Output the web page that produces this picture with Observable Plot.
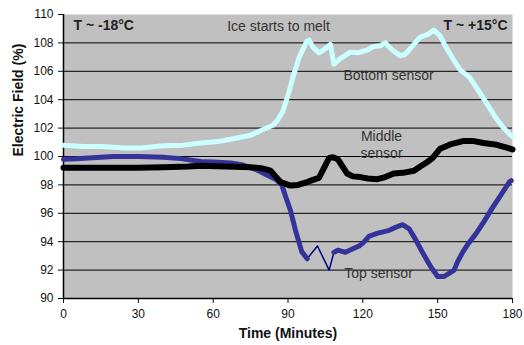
<!DOCTYPE html>
<html><head><meta charset="utf-8">
<script src="https://cdn.jsdelivr.net/npm/d3@7"></script>
<script src="https://cdn.jsdelivr.net/npm/@observablehq/plot@0.6"></script>
<style>body{margin:0;background:#fff;}</style>
</head><body><div id="chart"></div><script>
// Bottom sensor (light cyan)
const bottomT = [0, 8, 15, 25, 31, 40, 48, 55, 62, 68, 75, 80, 84, 86, 88, 90.5, 92, 94.5, 97.5, 98.5, 100, 102.4, 105, 107, 108.4, 111, 115, 118, 121.8, 124.3, 127, 129, 131.8, 135, 137, 139, 143, 146, 148.5, 151, 153, 156.4, 159, 162.6, 165, 168, 173, 176, 178.7, 180];
const bottomV = [100.8, 100.7, 100.7, 100.6, 100.6, 100.75, 100.8, 100.95, 101.05, 101.25, 101.5, 101.9, 102.2, 102.6, 103.2, 104.6, 105.6, 107.0, 108.1, 108.2, 107.7, 107.3, 107.6, 107.9, 106.5, 106.9, 107.35, 107.3, 107.5, 107.75, 107.8, 108.0, 107.5, 107.1, 107.2, 107.6, 108.4, 108.6, 108.9, 108.5, 107.8, 106.8, 106.1, 105.6, 105.0, 104.2, 102.8, 102.1, 101.6, 101.4];
// Middle sensor (black)
const middleT = [0, 10, 20, 30, 40, 50, 55, 65, 75, 80, 83, 85, 87, 91, 94, 97.7, 100, 102.4, 106.5, 108, 110, 111.5, 113.7, 116, 119, 122, 125.8, 129, 132.4, 136, 140.5, 143, 145.8, 148, 151, 155, 160.5, 164, 168.4, 173, 178, 180];
const middleV = [99.2, 99.2, 99.2, 99.2, 99.25, 99.3, 99.35, 99.3, 99.25, 99.15, 99.0, 98.6, 98.2, 97.95, 98.0, 98.2, 98.35, 98.5, 99.9, 99.95, 99.8, 99.4, 98.8, 98.6, 98.55, 98.45, 98.4, 98.55, 98.8, 98.85, 99.0, 99.3, 99.6, 99.9, 100.55, 100.85, 101.1, 101.1, 100.95, 100.85, 100.6, 100.5];
// Top sensor (dark blue)
const topT = [0, 5, 10, 20, 30, 40, 47, 55, 62, 67, 72, 77, 81.5, 85, 87.5, 89, 91, 93, 95.5, 97.7, 101.8, 106.5, 108.4, 110, 113, 116, 118.5, 120, 122.6, 126, 130.6, 133, 135.9, 138.6, 141, 143.9, 147, 150, 152.6, 156.6, 158, 160, 162, 165.3, 168.5, 172, 175, 178.7, 179.5];
const topV = [99.8, 99.85, 99.9, 100.0, 100.0, 99.95, 99.85, 99.65, 99.6, 99.55, 99.4, 99.1, 98.7, 98.4, 98.0, 97.2, 96.2, 94.8, 93.3, 92.8, 93.7, 92.0, 93.25, 93.4, 93.25, 93.5, 93.7, 93.9, 94.4, 94.6, 94.8, 95.0, 95.2, 94.9, 94.2, 93.25, 92.3, 91.55, 91.55, 92.0, 92.6, 93.25, 93.8, 94.55, 95.4, 96.4, 97.2, 98.2, 98.3];
// spans where the recorded trace is drawn as a thin connector
const topThin = [97.7, 108.4];
const middleThin = [102.4, 106.5];

const xTicks = [0, 30, 60, 90, 120, 150, 180];
const yTicks = [90, 92, 94, 96, 98, 100, 102, 104, 106, 108, 110];
const xLabel = "Time (Minutes)";
const yLabel = "Electric Field (%)";

const tempLabels = ["T ~ -18°C", "T ~ +15°C"];
const tempT = [4, 178];
const tempV = [109.23, 109.23];
const noteLabels = ["Ice starts to melt", "Bottom sensor", "Middle\nsensor", "Top sensor"];
const noteT = [86.2, 130.3, 127.5, 126.3];
const noteV = [109.23, 105.77, 100.88, 91.85];

const mk = (T, V) => T.map((t, i) => ({t, v: V[i]}));
const thick = (rows, span) => rows.map(d => ({t: d.t, v: (d.t > span[0] && d.t < span[1]) ? NaN : d.v}));
const bottomRows = mk(bottomT, bottomV);
const middleRows = mk(middleT, middleV);
const topRows = mk(topT, topV);

const chart = Plot.plot({
  width: 524, height: 345,
  marginLeft: 63, marginRight: 12, marginTop: 14, marginBottom: 47,
  style: {fontFamily: "'Liberation Sans', Arial, sans-serif", fontSize: "12px", background: "#fff", color: "#111"},
  x: {domain: [0, 180]},
  y: {domain: [90, 110]},
  marks: [
    Plot.frame({fill: "#c0c0c0", stroke: null}),
    Plot.gridY(yTicks.filter(v => v > 90 && v < 110), {stroke: "#000", strokeOpacity: 1, strokeWidth: 1}),
    Plot.ruleX([0], {stroke: "#000", strokeWidth: 1.5}),
    Plot.ruleY([90], {stroke: "#000", strokeWidth: 1.5}),
    Plot.axisY({ticks: yTicks, tickSize: 5, tickPadding: 5, label: null, fontSize: 12}),
    Plot.axisX({ticks: xTicks, tickSize: 5, tickPadding: 6, label: null, fontSize: 12}),
    Plot.line(bottomRows, {x: "t", y: "v", stroke: "#ccffff", strokeWidth: 5, strokeLinejoin: "round"}),
    Plot.line(topRows, {x: "t", y: "v", stroke: "#000080", strokeWidth: 1.5}),
    Plot.line(thick(topRows, topThin), {x: "t", y: "v", stroke: "#333399", strokeWidth: 5, strokeLinejoin: "round"}),
    Plot.line(middleRows, {x: "t", y: "v", stroke: "#000", strokeWidth: 1.5}),
    Plot.line(thick(middleRows, middleThin), {x: "t", y: "v", stroke: "#000", strokeWidth: 6, strokeLinejoin: "miter"}),
    Plot.text([tempLabels[0]], {x: [tempT[0]], y: [tempV[0]], text: d => d, textAnchor: "start", fontWeight: "bold", fontSize: 14, fill: "#222"}),
    Plot.text([tempLabels[1]], {x: [tempT[1]], y: [tempV[1]], text: d => d, textAnchor: "end", fontWeight: "bold", fontSize: 14, fill: "#222"}),
    Plot.text(noteLabels, {x: noteT, y: noteV, text: d => d, fontSize: 14, fill: "#333", lineHeight: 1.2}),
    Plot.text([yLabel], {frameAnchor: "left", dx: -45, rotate: -90, text: d => d, fontWeight: "bold", fontSize: 14, fill: "#111"}),
    Plot.text([xLabel], {frameAnchor: "bottom", dy: 39, text: d => d, fontWeight: "bold", fontSize: 14, fill: "#111"})
  ]
});
document.getElementById("chart").appendChild(chart);
</script></body></html>
